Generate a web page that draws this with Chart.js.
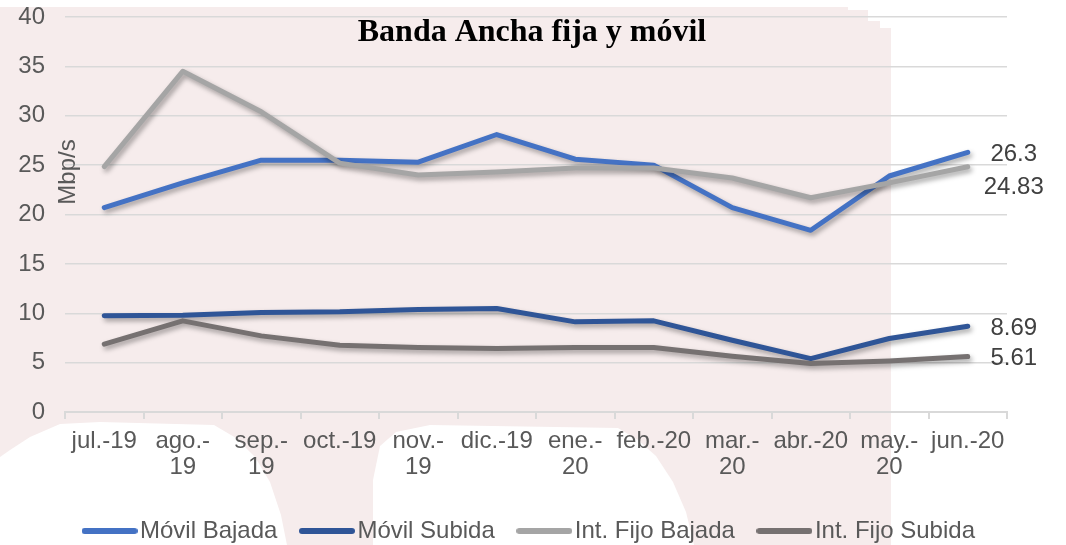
<!DOCTYPE html>
<html>
<head>
<meta charset="utf-8">
<script src="https://cdn.jsdelivr.net/npm/chart.js@4.4.1/dist/chart.umd.min.js"></script>
<style>
  html, body { margin: 0; padding: 0; background: #ffffff; }
  #wrap { width: 1066px; height: 545px; position: relative; }
</style>
</head>
<body>
<div id="wrap"><canvas id="c" width="1066" height="545"></canvas></div>
<script>
// Monthly labels (two-line where the month wraps)
const months = ['jul.-19', ['ago.-', '19'], ['sep.-', '19'], 'oct.-19', ['nov.-', '19'], 'dic.-19',
                ['ene.-', '20'], 'feb.-20', ['mar.-', '20'], 'abr.-20', ['may.-', '20'], 'jun.-20'];
const seriesNames = ['Móvil Bajada', 'Móvil Subida', 'Int. Fijo Bajada', 'Int. Fijo Subida'];
const movilBajada = [20.7, 23.2, 25.5, 25.5, 25.3, 28.1, 25.6, 25.0, 20.7, 18.4, 23.9, 26.3];
const movilSubida = [9.74, 9.8, 10.08, 10.14, 10.38, 10.49, 9.13, 9.23, 7.27, 5.4, 7.44, 8.69];
const fijoBajada  = [24.85, 34.5, 30.4, 25.2, 24.0, 24.3, 24.7, 24.7, 23.7, 21.7, 23.2, 24.83];
const fijoSubida  = [6.87, 9.23, 7.71, 6.76, 6.53, 6.43, 6.53, 6.53, 5.65, 4.9, 5.17, 5.61];
const yTicks = [0, 5, 10, 15, 20, 25, 30, 35, 40];

const colors = ['#4472C4', '#2F5597', '#A5A5A5', '#767171'];
const FONT = '"Liberation Sans", Arial, sans-serif';
const TXT = '#595959';
const FS = 24;

// Legend swatch: short rounded line, drawn into a small canvas
function swatch(color) {
  const cv = document.createElement('canvas');
  cv.width = 56; cv.height = 8;
  const g = cv.getContext('2d');
  g.strokeStyle = color; g.lineWidth = 6; g.lineCap = 'round';
  g.beginPath(); g.moveTo(3, 4); g.lineTo(53, 4); g.stroke();
  return cv;
}

const allSeries = [movilBajada, movilSubida, fijoBajada, fijoSubida];
const datasets = allSeries.map((vals, i) => ({
  label: seriesNames[i],
  data: vals,
  borderColor: colors[i],
  backgroundColor: colors[i],
  borderWidth: 5,
  borderCapStyle: 'round',
  borderJoinStyle: 'round',
  pointRadius: 0,
  pointHoverRadius: 0,
  pointStyle: swatch(colors[i]),
  tension: 0,
  fill: false,
  order: 4 - i
}));

// Soft pink panel behind the plot
const panelBg = {
  id: 'panelBg',
  beforeDraw(chart) {
    const ctx = chart.ctx;
    ctx.save();
    ctx.fillStyle = '#ffffff';
    ctx.fillRect(0, 0, chart.width, chart.height);
    ctx.fillStyle = '#F6ECEC';
    const pts = [[0,7],[848,7],[848,10],[868,10],[868,21],[880,21],[880,28],[891,28],[891,545],[694,545],[686,512],[673,482],
      [656,456],[638,440],[618,428],[430,425],[396,432],[380,446],[373,480],[373,545],[287,545],[281,515],
      [270,482],[255,457],[236,438],[214,425],[100,422],[60,424],[30,437],[10,450],[0,457]];
    ctx.beginPath();
    pts.forEach((p, k) => k ? ctx.lineTo(p[0], p[1]) : ctx.moveTo(p[0], p[1]));
    ctx.closePath();
    ctx.fill();
    ctx.restore();
  }
};

// Drop shadow under each line
const lineShadow = {
  id: 'lineShadow',
  beforeDatasetDraw(chart) {
    const ctx = chart.ctx;
    ctx.save();
    ctx.shadowColor = 'rgba(0,0,0,0.35)';
    ctx.shadowBlur = 5;
    ctx.shadowOffsetX = 2;
    ctx.shadowOffsetY = 3;
  },
  afterDatasetDraw(chart) { chart.ctx.restore(); }
};

// Title, axis caption and end-of-series values
const overlays = {
  id: 'overlays',
  afterDraw(chart) {
    const ctx = chart.ctx;
    ctx.save();
    ctx.fillStyle = '#000000';
    ctx.font = 'bold 32px "Liberation Serif", "Times New Roman", serif';
    ctx.textAlign = 'center';
    ctx.textBaseline = 'alphabetic';
    ctx.fillText('Banda Ancha fija y móvil', 532, 41);

    ctx.save();
    ctx.translate(68, 172);
    ctx.rotate(-Math.PI / 2);
    ctx.font = FS + 'px ' + FONT;
    ctx.fillStyle = TXT;
    ctx.textAlign = 'center';
    ctx.textBaseline = 'middle';
    ctx.fillText('Mbp/s', 0, 0);
    ctx.restore();

    const dy = [2, 2, 21, 2];
    ctx.font = FS + 'px ' + FONT;
    ctx.fillStyle = '#404040';
    ctx.textAlign = 'center';
    ctx.textBaseline = 'middle';
    chart.data.datasets.forEach((ds, i) => {
      const meta = chart.getDatasetMeta(i);
      const last = ds.data.length - 1;
      const pt = meta.data[last];
      ctx.fillText(String(ds.data[last]), pt.x + 46, pt.y + dy[i]);
    });
    ctx.restore();
  }
};

new Chart(document.getElementById('c'), {
  type: 'line',
  data: { labels: months, datasets },
  plugins: [panelBg, lineShadow, overlays],
  options: {
    responsive: false,
    devicePixelRatio: 1,
    animation: false,
    layout: { padding: { top: 17, right: 0, bottom: -8, left: 0 } },
    plugins: {
      title: { display: false },
      tooltip: { enabled: false },
      legend: {
        position: 'bottom',
        labels: {
          usePointStyle: true,
          pointStyleWidth: 37,
          boxHeight: 8,
          padding: 31,
          color: TXT,
          font: { family: FONT, size: FS },
          sort: (a, b) => a.datasetIndex - b.datasetIndex
        }
      }
    },
    scales: {
      x: {
        offset: true,
        grid: { display: true, drawOnChartArea: false, drawTicks: true, offset: true, tickLength: 7, color: '#D9D9D9', lineWidth: 2 },
        border: { display: true, color: '#D9D9D9', width: 2 },
        ticks: { color: TXT, font: { family: FONT, size: FS, lineHeight: 1.09 }, padding: 9, maxRotation: 0, minRotation: 0, autoSkip: false },
        afterFit(scale) { scale.height = 76; }
      },
      y: {
        min: 0, max: 40,
        afterBuildTicks(scale) { scale.ticks = yTicks.map(v => ({ value: v })); },
        grid: { color: '#D9D9D9', lineWidth: 1.5, drawTicks: false },
        border: { display: false },
        ticks: { color: TXT, font: { family: FONT, size: FS }, padding: 20 },
        afterFit(scale) {
          scale.width = 65;
          scale.paddingTop = 0;
          scale.paddingBottom = 0;
        }
      },
      // empty right-hand gutter that leaves room for the end values
      gutter: {
        type: 'linear',
        position: 'right',
        display: true,
        grid: { display: false, drawTicks: false },
        border: { display: false },
        ticks: { display: false },
        afterFit(scale) { scale.width = 59; }
      }
    }
  }
});
</script>
</body>
</html>
